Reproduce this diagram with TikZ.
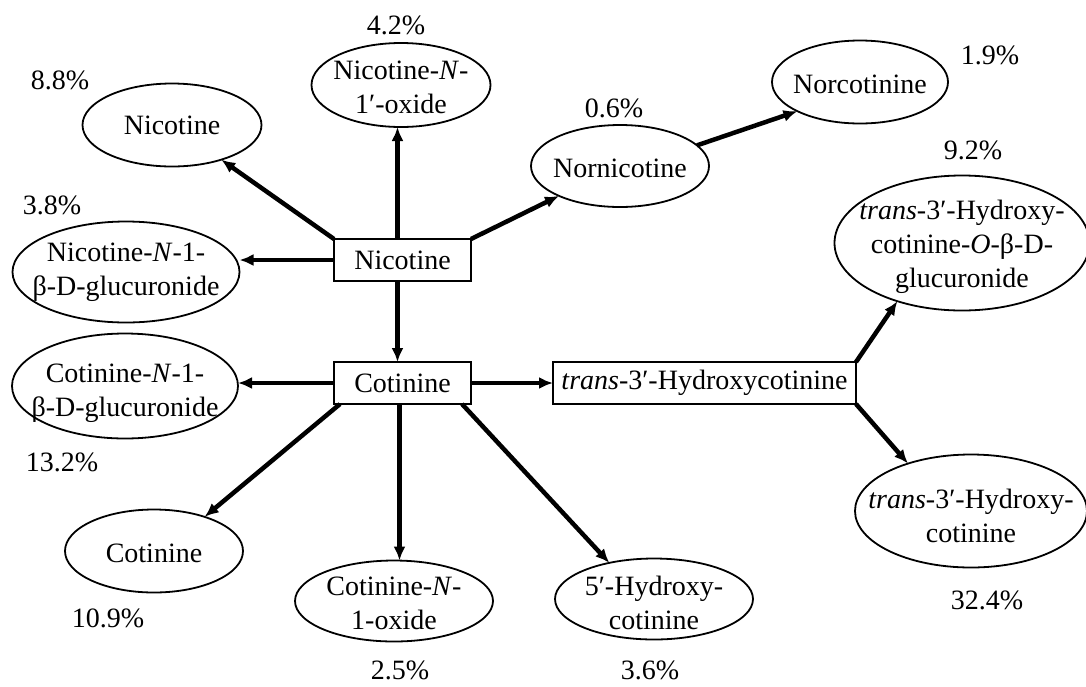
\documentclass[tikz,border=0pt]{standalone}
\usepackage{fontspec}
\setmainfont{Liberation Serif}
\usetikzlibrary{arrows.meta,shapes.geometric,calc}
\begin{document}
\begin{tikzpicture}[x=1pt,y=-1pt,
  every node/.style={font=\fontsize{28}{34}\selectfont, inner sep=0pt, outer sep=0pt},
  ell/.style={draw, ellipse, line width=1.8pt},
  lab/.style={align=center},
  boxn/.style={draw, rectangle, line width=2pt, minimum height=42pt},
  pct/.style={},
  arr/.style={line width=4.5pt, -{Latex[length=14pt,width=12pt]}}
]
\path[use as bounding box, fill=white] (0,0) rectangle (1086,686);

% boxes
\node[boxn, minimum width=137pt] (bNic) at (402.5,260) {Nicotine};
\node[boxn, minimum width=137pt] (bCot) at (402.5,383) {Cotinine};
\node[boxn, minimum width=303pt] (bTHC) at (704.5,383) {\textit{trans}-3′-Hydroxycotinine};

% ellipses
\node[ell, minimum width=179pt, minimum height=83pt] (eNic) at (172,125) {};
\node[lab] (tNic) at (172,125) {Nicotine};
\node[ell, minimum width=179pt, minimum height=84pt] (eOx) at (401,85) {};
\node[lab] (tOx) at (401,87) {Nicotine-\textit{N}-\\1′-oxide};
\node[ell, minimum width=178pt, minimum height=82pt] (eNorn) at (620,166) {};
\node[lab] (tNorn) at (620,168) {Nornicotine};
\node[ell, minimum width=176pt, minimum height=83pt] (eNorc) at (860,82) {};
\node[lab] (tNorc) at (860,84) {Norcotinine};
\node[ell, minimum width=227pt, minimum height=101pt] (eGluN) at (126,272) {};
\node[lab] (tGluN) at (126,272) {Nicotine-\textit{N}-1-\\β-D-glucuronide};
\node[ell, minimum width=226pt, minimum height=105pt] (eGluC) at (125,386) {};
\node[lab] (tGluC) at (125,393) {Cotinine-\textit{N}-1-\\β-D-glucuronide};
\node[ell, minimum width=178pt, minimum height=83pt] (eCot) at (154,551) {};
\node[lab] (tCot) at (154,553) {Cotinine};
\node[ell, minimum width=198pt, minimum height=81pt] (eCotOx) at (394,601) {};
\node[lab] (tCotOx) at (394,603) {Cotinine-\textit{N}-\\1-oxide};
\node[ell, minimum width=198pt, minimum height=81pt] (e5H) at (654,599) {};
\node[lab] (t5H) at (654,603) {5′-Hydroxy-\\cotinine};
\node[ell, minimum width=255pt, minimum height=135pt] (eGluT) at (962,243) {};
\node[lab] (tGluT) at (962,247) {\textit{trans}-3′-Hydroxy-\\cotinine-\textit{O}-β-D-\\glucuronide};
\node[ell, minimum width=232pt, minimum height=113pt] (eTHC) at (971,511) {};
\node[lab] (tTHC) at (971,516) {\textit{trans}-3′-Hydroxy-\\cotinine};

% percentages
\node[pct] (p1) at (396,25) {4.2\%};
\node[pct] (p2) at (60,80) {8.8\%};
\node[pct] (p3) at (614,108) {0.6\%};
\node[pct] (p4) at (990,55) {1.9\%};
\node[pct] (p5) at (973,150) {9.2\%};
\node[pct] (p6) at (52,205) {3.8\%};
\node[pct] (p7) at (62,462) {13.2\%};
\node[pct] (p8) at (108,618) {10.9\%};
\node[pct] (p9) at (400,670) {2.5\%};
\node[pct] (p10) at (650,670) {3.6\%};
\node[pct] (p11) at (987,600) {32.4\%};

% connectors
\draw[arr] (bNic.north west) -- (eNic);
\draw[arr] ([xshift=-5pt]bNic.north) -- ([xshift=-5pt]bNic.north |- eOx.south);
\draw[arr] (bNic.north east) -- (eNorn);
\draw[arr] (eNorn.15) -- (eNorc.205);
\draw[arr] (bNic.west) -- (bNic.west -| eGluN.east);
\draw[arr] ([xshift=-5pt]bNic.south) -- ([xshift=-5pt]bCot.north);
\draw[arr] (bCot.west) -- (bCot.west -| eGluC.east);
\draw[arr] ([xshift=6pt]bCot.south west) -- (eCot.34);
\draw[arr] ([xshift=-3pt]bCot.south) -- ([xshift=-3pt]bCot.south |- eCotOx.north);
\draw[arr] ([xshift=-9pt]bCot.south east) -- (e5H.141);
\draw[arr] (bCot.east) -- (bTHC.west);
\draw[arr] (bTHC.north east) -- (eGluT.222);
\draw[arr] (bTHC.south east) -- (eTHC.143);
\end{tikzpicture}
\end{document}
